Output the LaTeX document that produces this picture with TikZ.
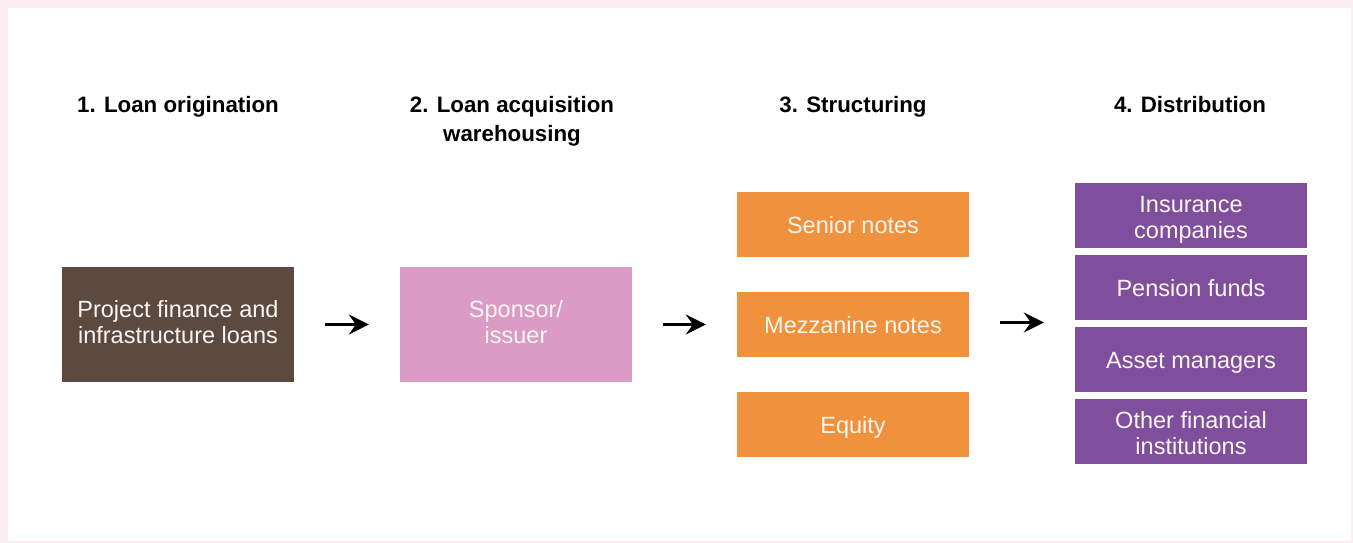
\documentclass[tikz,border=0pt]{standalone}
\usepackage{fontspec}
\setmainfont{Liberation Sans}
\usetikzlibrary{arrows.meta,calc}
\definecolor{bgpink}{HTML}{FAEEF3}
\definecolor{cbrown}{HTML}{5C4A41}
\definecolor{cpink}{HTML}{DA9BC6}
\definecolor{corange}{HTML}{F0923D}
\definecolor{cpurple}{HTML}{7F4F9E}
\definecolor{ctext}{HTML}{FBF6F0}
\tikzset{
  box/.style={minimum width=232pt, inner sep=0pt},
  btxt/.style={inner sep=0pt, text=ctext, font=\fontsize{23.5}{26}\selectfont, anchor=base},
  hdr/.style={font=\fontsize{22.3}{28}\selectfont\bfseries, text=black, anchor=base},
  flow/.style={line width=2.6pt, -{Stealth[length=20pt,width=20pt,inset=7pt]}, shorten <=31pt, shorten >=31pt}
}
\begin{document}
\begin{tikzpicture}[x=1pt,y=-1pt]
\fill[bgpink] (0,0) rectangle (1353,543);
\fill[white] (8,8) rectangle (1351,541);
\useasboundingbox (0,0) rectangle (1353,543);
% headers
\node[hdr] (h1) at (178,113) {1. Loan origination};
\node[hdr] (h2) at (512,113) {2. Loan acquisition};
\node[hdr] (h2b) at (512,141) {warehousing};
\node[hdr] (h3) at (853,113) {3. Structuring};
\node[hdr] (h4) at (1190,113) {4. Distribution};
% boxes
\node[box, fill=cbrown, minimum height=115pt] (orig) at (178,324.5) {};
\node[box, fill=cpink, minimum height=115pt] (spon) at (516,324.5) {};
\node[box, fill=corange, minimum height=65pt] (sen) at (853,224.5) {};
\node[box, fill=corange, minimum height=65pt] (mez) at (853,324.5) {};
\node[box, fill=corange, minimum height=65pt] (eq) at (853,424.5) {};
\node[box, fill=cpurple, minimum height=65pt] (ins) at (1191,215.5) {};
\node[box, fill=cpurple, minimum height=65pt] (pen) at (1191,287.5) {};
\node[box, fill=cpurple, minimum height=65pt] (am) at (1191,359.5) {};
\node[box, fill=cpurple, minimum height=65pt] (ofi) at (1191,431.5) {};
% box texts
\node[btxt] (t1a) at ($(orig.center)+(0,-7.5)$) {Project finance and};
\node[btxt] (t1b) at ($(orig.center)+(0,18.5)$) {infrastructure loans};
\node[btxt] (t2a) at ($(spon.center)+(0,-7.5)$) {Sponsor/};
\node[btxt] (t2b) at ($(spon.center)+(0,18.5)$) {issuer};
\node[btxt] (t3) at ($(sen.center)+(0,8.5)$) {Senior notes};
\node[btxt] (t4) at ($(mez.center)+(0,8.5)$) {Mezzanine notes};
\node[btxt] (t5) at ($(eq.center)+(0,8.5)$) {Equity};
\node[btxt] (t6a) at ($(ins.center)+(0,-3.5)$) {Insurance};
\node[btxt] (t6b) at ($(ins.center)+(0,22.5)$) {companies};
\node[btxt] (t7) at ($(pen.center)+(0,8.5)$) {Pension funds};
\node[btxt] (t8) at ($(am.center)+(0,8.5)$) {Asset managers};
\node[btxt] (t9a) at ($(ofi.center)+(0,-3.5)$) {Other financial};
\node[btxt] (t9b) at ($(ofi.center)+(0,22.5)$) {institutions};
% arrows
\draw[flow] (orig.east) -- (spon.west);
\draw[flow] (spon.east) -- (mez.west);
\draw[flow] ($(mez.east)+(0,-2)$) -- ($(mez.east -| pen.west)+(0,-2)$);
\end{tikzpicture}
\end{document}
